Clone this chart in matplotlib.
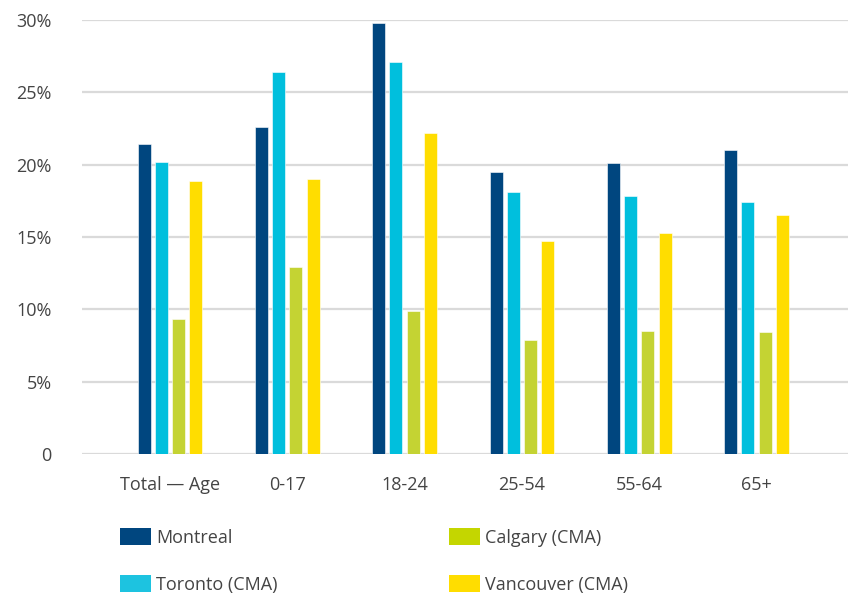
import matplotlib
matplotlib.use("Agg")
import matplotlib.pyplot as plt
import numpy as np
from matplotlib.patches import Patch

categories = ["Total — Age", "0-17", "18-24", "25-54", "55-64", "65+"]
series_names = ["Montreal", "Toronto (CMA)", "Calgary (CMA)", "Vancouver (CMA)"]
montreal = [21.4, 22.6, 29.8, 19.5, 20.1, 21.0]
toronto = [20.2, 26.4, 27.1, 18.1, 17.8, 17.45]
calgary = [9.35, 12.95, 9.9, 7.9, 8.5, 8.45]
vancouver = [18.9, 19.0, 22.2, 14.75, 15.3, 16.55]
yticks = [0, 5, 10, 15, 20, 25, 30]
ytick_labels = ["0", "5%", "10%", "15%", "20%", "25%", "30%"]

colors = ["#00467F", "#00BFDD", "#C4D333", "#FFDD00"]
legend_colors = ["#00467F", "#1DC3E0", "#C4D600", "#FFDD00"]
text_color = "#444444"

plt.rcParams['font.family'] = ['Open Sans', 'DejaVu Sans']

fig = plt.figure(figsize=(8.49, 5.96), dpi=100)
ax = fig.add_axes([82/849, 1-454/596, (848-82)/849, (454-20)/596])

x = np.arange(len(categories))
pitch = 0.147
width = 0.111
data = [montreal, toronto, calgary, vancouver]
for i, (vals, c) in enumerate(zip(data, colors)):
    ax.bar(x + (i - 1.5) * pitch, vals, width=width, color=c, zorder=3,
           edgecolor="white", linewidth=0.4)

ax.set_xlim(-0.75, 5.78)
ax.set_ylim(0, 30)
ax.set_yticks(yticks)
ax.set_yticklabels(ytick_labels)
ax.set_xticks(x)
ax.set_xticklabels(categories)
ax.tick_params(axis='both', length=0, labelsize=13, colors=text_color)
ax.tick_params(axis='y', pad=22)
ax.tick_params(axis='x', pad=16)
ax.yaxis.grid(True, color="#DADADA", linewidth=1.6, zorder=0)
for s in ax.spines.values():
    s.set_visible(False)
ax.set_axisbelow(True)

handles = [Patch(facecolor=c, edgecolor='none') for c in legend_colors]
leg = fig.legend(handles, series_names, loc='upper left',
                 bbox_to_anchor=(120/849, 1-528/596), ncol=2, frameon=False,
                 fontsize=13, handlelength=1.72, handleheight=1.05,
                 handletextpad=0.3, labelspacing=1.6, columnspacing=9.45,
                 borderaxespad=0, borderpad=0)
for t in leg.get_texts():
    t.set_color(text_color)

fig.savefig("out.png", dpi=100)
